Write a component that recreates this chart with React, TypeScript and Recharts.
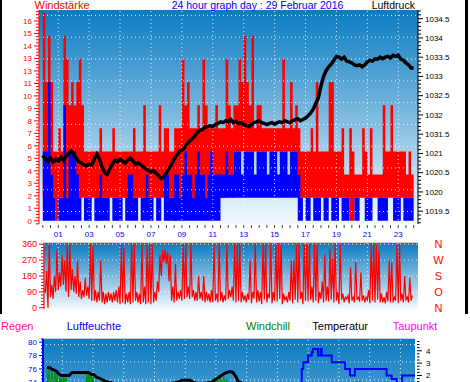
import React from 'react'
import { ComposedChart, Area, Line, XAxis, YAxis, ReferenceLine } from 'recharts'

const FONT = '"Liberation Sans", Arial, Helvetica, sans-serif'
const BG = 'linear-gradient(to bottom, #0a7bc1 0%, #f4f9fd 100%)'

// wind in knots, one slot per 10 minutes from 00:00; the axis is km/h
const KMH_PER_KNOT = 1.852
const GUST_HI = [
  9, 6, 8, 6, 3, 3, 4, 3, 8, 7, 5, 6, 5, 6, 7, 5,
  3, 3, 3, 3, 3, 3, 4, 3, 3, 3, 3, 4, 3, 3, 3, 3,
  3, 3, 3, 4, 3, 3, 3, 5, 3, 3, 3, 3, 3, 5, 3, 4,
  4, 3, 3, 4, 4, 4, 7, 5, 6, 4, 4, 4, 5, 4, 7, 5,
  4, 4, 4, 5, 4, 4, 4, 7, 5, 4, 5, 5, 7, 6, 8, 6,
  5, 8, 4, 5, 5, 4, 4, 4, 4, 4, 4, 4, 4, 7, 4, 4,
  6, 4, 5, 4, 3, 3, 3, 3, 4, 3, 6, 3, 3, 3, 3, 6,
  6, 3, 3, 3, 4, 2, 2, 4, 3, 2, 2, 2, 4, 3, 2, 4,
  2, 2, 2, 2, 5, 3, 3, 5, 3, 3, 3, 3, 3, 2, 3, 2,
]
const GUST_LO = [
  1, 1, 1, 1, 1, 0, 1, 1, 1, 1, 1, 1, 1, 1, 1, 1,
  1, 1, 1, 1, 1, 0, 1, 1, 1, 1, 1, 1, 1, 1, 1, 1,
  1, 1, 1, 1, 1, 1, 1, 1, 1, 1, 1, 1, 1, 1, 1, 1,
  1, 1, 1, 0, 1, 1, 1, 1, 2, 1, 1, 1, 1, 2, 1, 1,
  1, 1, 2, 1, 1, 1, 1, 1, 2, 1, 3, 3, 3, 3, 3, 3,
  3, 3, 3, 3, 3, 3, 3, 3, 3, 3, 3, 3, 3, 3, 3, 3,
  3, 3, 3, 1, 1, 1, 1, 1, 1, 1, 1, 1, 1, 1, 1, 1,
  1, 1, 1, 1, 1, 1, 1, 0, 0, 1, 1, 1, 1, 1, 1, 1,
  1, 1, 1, 1, 1, 1, 1, 1, 1, 1, 1, 1, 1, 1, 1, 1,
]
const MEAN_HI = [
  3, 3, 6, 2, 1, 0, 1, 1, 5, 1, 3, 3, 3, 2, 1, 0,
  1, 1, 1, 0, 1, 1, 2, 1, 1, 1, 0, 1, 1, 1, 1, 0,
  1, 2, 2, 1, 1, 0, 1, 1, 2, 1, 1, 0, 1, 1, 0, 2,
  2, 1, 1, 2, 2, 1, 2, 3, 2, 2, 1, 2, 3, 2, 2, 1,
  2, 3, 2, 2, 2, 2, 2, 3, 2, 2, 3, 3, 3, 2, 3, 3,
  3, 3, 2, 3, 3, 3, 3, 2, 3, 3, 3, 2, 3, 3, 3, 2,
  3, 3, 3, 2, 1, 0, 1, 1, 0, 1, 1, 1, 0, 1, 1, 0,
  1, 1, 1, 0, 1, 1, 1, 0, 0, 1, 1, 0, 0, 1, 1, 1,
  0, 0, 1, 1, 1, 1, 0, 0, 1, 1, 1, 0, 1, 1, 1, 1,
]
const MEAN_LO = [
  0, 0, 0, 0, 0, 0, 0, 0, 0, 0, 0, 0, 0, 0, 0, 0,
  0, 0, 0, 0, 0, 0, 0, 0, 0, 0, 0, 0, 0, 0, 0, 0,
  0, 0, 0, 0, 0, 0, 0, 0, 0, 0, 0, 0, 0, 0, 0, 0,
  0, 0, 0, 0, 0, 0, 0, 0, 0, 0, 0, 0, 0, 0, 0, 0,
  0, 0, 0, 0, 0, 1, 1, 1, 1, 1, 1, 1, 1, 1, 1, 1,
  1, 1, 1, 1, 1, 1, 1, 1, 1, 1, 1, 1, 1, 1, 1, 1,
  1, 1, 1, 0, 0, 0, 0, 0, 0, 0, 0, 0, 0, 0, 0, 0,
  0, 0, 0, 0, 0, 0, 0, 0, 0, 0, 0, 0, 0, 0, 0, 0,
  0, 0, 0, 0, 0, 0, 0, 0, 0, 0, 0, 0, 0, 0, 0, 0,
]
// Luftdruck (hPa), same 10-minute slots
const PRESSURE = [
  1030.95, 1030.85, 1030.8, 1030.88, 1030.78, 1030.85, 1030.8, 1030.9, 1030.82, 1030.92, 1031.0, 1031.06, 1030.98, 1030.88, 1030.78, 1030.75,
  1030.7, 1030.68, 1030.72, 1030.7, 1030.85, 1030.98, 1030.85, 1030.65, 1030.5, 1030.45, 1030.6, 1030.72, 1030.82, 1030.78, 1030.85, 1030.8,
  1030.75, 1030.83, 1030.88, 1030.8, 1030.72, 1030.76, 1030.7, 1030.65, 1030.6, 1030.55, 1030.52, 1030.55, 1030.48, 1030.42, 1030.35, 1030.4,
  1030.5, 1030.6, 1030.72, 1030.85, 1030.95, 1031.05, 1031.08, 1031.15, 1031.25, 1031.32, 1031.38, 1031.45, 1031.55, 1031.6, 1031.62, 1031.68,
  1031.7, 1031.72, 1031.7, 1031.75, 1031.78, 1031.82, 1031.8, 1031.85, 1031.82, 1031.88, 1031.8, 1031.83, 1031.78, 1031.8, 1031.75, 1031.72,
  1031.7, 1031.75, 1031.8, 1031.82, 1031.85, 1031.8, 1031.78, 1031.75, 1031.78, 1031.8, 1031.76, 1031.8, 1031.82, 1031.8, 1031.85, 1031.82,
  1031.8, 1031.85, 1031.88, 1031.9, 1031.85, 1031.88, 1031.92, 1031.98, 1032.05, 1032.15, 1032.3, 1032.45, 1032.75, 1033.0, 1033.15, 1033.25,
  1033.32, 1033.42, 1033.52, 1033.5, 1033.45, 1033.5, 1033.4, 1033.38, 1033.35, 1033.3, 1033.28, 1033.3, 1033.25, 1033.3, 1033.38, 1033.42,
  1033.4, 1033.46, 1033.45, 1033.5, 1033.46, 1033.5, 1033.52, 1033.48, 1033.55, 1033.52, 1033.55, 1033.45, 1033.42, 1033.35, 1033.3, 1033.22,
]

// wind direction (degrees): lowest and highest reading in each 10-minute slot
const DIR_LO = [
  80, 90, 0, 60, 50, 90, 100, 120, 130, 90, 60, 100, 90, 80, 60, 50,
  60, 70, 50, 40, 40, 30, 40, 30, 20, 30, 40, 30, 40, 30, 20, 30,
  20, 30, 20, 30, 40, 30, 20, 30, 20, 30, 20, 30, 40, 90, 180, 260,
  250, 150, 40, 30, 40, 50, 40, 50, 60, 50, 60, 40, 40, 50, 40, 30,
  40, 30, 30, 40, 30, 40, 30, 40, 50, 60, 40, 30, 40, 30, 40, 30,
  45, 25, 50, 30, 35, 20, 45, 30, 55, 25, 40, 35, 50, 20, 45, 30,
  40, 25, 45, 30, 50, 20, 40, 35, 45, 30, 40, 25, 50, 30, 40, 35,
  45, 30, 40, 20, 45, 30, 50, 25, 40, 30, 45, 35, 40, 30, 45, 25,
  40, 30, 45, 30, 30, 25, 35, 30, 30, 40, 25, 40, 30, 45, 30, 40,
]
const DIR_HI = [
  100, 210, 360, 130, 180, 330, 200, 300, 270, 360, 360, 220, 180, 270, 150, 100,
  170, 120, 360, 350, 100, 90, 270, 90, 80, 90, 80, 90, 100, 120, 360, 340,
  80, 90, 360, 360, 90, 80, 360, 120, 360, 360, 360, 90, 150, 300, 330, 330,
  320, 300, 120, 250, 90, 100, 360, 360, 120, 360, 100, 90, 180, 90, 180, 90,
  80, 100, 360, 80, 360, 90, 70, 360, 100, 120, 360, 360, 360, 90, 70, 80,
  270, 90, 360, 100, 90, 360, 360, 80, 360, 90, 360, 360, 360, 80, 60, 90,
  270, 270, 360, 360, 90, 360, 360, 360, 120, 360, 360, 90, 150, 300, 120, 330,
  280, 360, 90, 360, 80, 60, 70, 230, 60, 260, 60, 200, 70, 60, 100, 360,
  360, 360, 330, 80, 60, 90, 270, 260, 60, 360, 360, 80, 180, 60, 170, 70,
]

// bottom chart, [hour, value]
const TEMPERATURE = [
  [0, 2.65], [0.2, 2.62], [0.3, 2.52], [0.55, 2.4], [0.65, 2.3], [0.75, 2.15], [0.95, 2.0], [1.45, 2.0],
  [1.55, 2.14], [1.65, 2.24], [2.7, 2.24], [2.85, 2.12], [3.05, 2.06], [3.25, 1.85], [3.4, 1.78], [3.7, 1.6],
  [4, 1.45], [5, 1.2], [6, 1.0], [7, 1.1], [8, 1.3], [8.6, 1.5], [8.8, 1.62], [9.3, 1.62], [9.5, 1.45],
  [10, 1.3], [10.7, 1.45], [11, 1.7], [11.3, 1.95], [11.6, 2.2], [11.9, 2.32], [12.1, 2.25], [12.3, 1.9],
  [12.45, 1.5], [13, 1.2], [15, 1.0], [17, 0.6], [19, 0.8], [21, 1.0], [23, 1.2], [24, 1.0],
]
const WINDCHILL = [
  [0, 2.5], [0.07, 1.2], [0.14, 2.5], [0.24, 1.0], [0.33, 2.4], [0.43, 1.2], [0.53, 2.2], [0.6, 1.0],
  [0.66, 2.1], [0.75, 1.1], [0.85, 1.9], [0.92, 1.0], [0.98, 1.8], [1.05, 1.2], [1.11, 1.9], [1.18, 1.0],
  [1.24, 1.8], [1.35, 0.8], [2.0, 0.6], [2.55, 0.9], [2.6, 2.1], [2.65, 1.0], [2.7, 2.1], [2.75, 1.1],
  [2.8, 2.0], [2.85, 1.0], [2.9, 2.0], [2.95, 1.2], [3.0, 1.9], [3.1, 0.8], [5, 0.2], [8, 0.3],
  [10.8, 0.8], [10.9, 1.8], [11.0, 0.9], [11.1, 1.9], [11.2, 1.0], [11.3, 1.8], [11.4, 1.1], [11.5, 1.9],
  [11.6, 1.0], [11.7, 1.7], [11.8, 0.8], [13, 0.0], [17, -0.5], [24, -0.5],
]
const HUMIDITY = [
  [0, 70], [3, 71], [8, 66], [12, 62], [16.58, 76], [16.68, 77], [16.99, 78], [17.23, 78.5],
  [17.31, 79], [17.64, 78], [17.81, 79], [17.88, 78], [18.53, 77], [19.4, 76], [19.72, 75],
  [20.04, 76], [22.1, 75], [22.43, 74.5], [22.76, 72], [23.1, 75], [24, 75],
]

const ODD_HOURS = [1, 3, 5, 7, 9, 11, 13, 15, 17, 19, 21, 23]
const HOUR_LABELS = ['01', '03', '05', '07', '09', '11', '13', '15', '17', '19', '21', '23']
const WIND_LABELS = ['0', '1', '2', '3', '4', '5', '6', '7', '8', '9', '10', '11', '13', '13', '14', '15', '16']
const PRESSURE_LABEL_VALUES = [1029.5, 1030, 1030.5, 1031, 1031.5, 1032, 1032.5, 1033, 1033.5, 1034, 1034.5]
const PRESSURE_LABELS = ['1019.5', '1020', '1020.5', '1021', '1031.5', '1032', '1032.5', '1033', '1033.5', '1034', '1034.5']
const COMPASS_VALUES = [0, 90, 180, 270, 360]
const COMPASS_LABELS = ['N', 'O', 'S', 'W', 'N']

const steps = (from: number, to: number, step: number) => {
  const out: number[] = []
  for (let v = from; v <= to + 1e-9; v += step) out.push(Math.round(v * 100) / 100)
  return out
}

const HALF_HOURS = steps(0, 24, 0.5)
const WIND_TICKS = steps(-0.25, 16.75, 0.25)
const PRESSURE_TICKS = steps(1029.2, 1034.7, 0.1)
const DIR_TICKS = steps(0, 360, 18)
const HUM_TICKS = steps(73.5, 80.5, 0.5)
const TEMP_TICKS = steps(1.25, 4.75, 0.25)
const WIND_GRID = [16.45, 14.7, 12.96, 11.2, 9.47, 7.72, 5.97, 4.23, 2.48, 0.74]
const TEMP_GRID = [4.49, 3.09, 1.65]

const windRows = GUST_HI.map((g, i) => ({
  t: i / 6,
  gust: [GUST_LO[i] * KMH_PER_KNOT, g * KMH_PER_KNOT],
  mean: [MEAN_LO[i] * KMH_PER_KNOT, MEAN_HI[i] * KMH_PER_KNOT],
  pressure: PRESSURE[i],
}))
windRows.push({ ...windRows[windRows.length - 1], t: 24 })

const dirRows = DIR_LO.flatMap((lo, i) => [
  { t: i / 6, dir: lo },
  { t: i / 6 + 1 / 12, dir: DIR_HI[i] },
])

const toRows = (pairs: number[][]) => pairs.map(([t, v]) => ({ t, v }))

const dotted = { stroke: '#ffffff', strokeOpacity: 0.85, strokeDasharray: '1 3' }

function WindTick({ x, y, payload }: any) {
  const v = payload.value
  const major = Number.isInteger(v) && v >= 0
  return (
    <g>
      <line x1={x - (major ? 5 : 3)} x2={x} y1={y} y2={y} stroke="#ff0000" />
      {major && (
        <text x={x - 7} y={y + 2.8} textAnchor="end" fontSize={8} fontFamily={FONT} fill="#ff0000">
          {WIND_LABELS[v]}
        </text>
      )}
    </g>
  )
}

function PressureTick({ x, y, payload }: any) {
  const v = payload.value
  const idx = PRESSURE_LABEL_VALUES.findIndex((p) => Math.abs(p - v) < 0.01)
  return (
    <g>
      <line x1={x} x2={x + (idx >= 0 ? 5 : 3)} y1={y} y2={y} stroke="#000" />
      {idx >= 0 && (
        <text x={x + 7} y={y + 2.8} fontSize={8} fontFamily={FONT} fill="#000">
          {PRESSURE_LABELS[idx]}
        </text>
      )}
    </g>
  )
}

function TimeTick({ x, y }: any) {
  return <line x1={x} x2={x} y1={y + 1} y2={y + 4} stroke="#404040" />
}

function HourTick({ x, y, payload }: any) {
  return (
    <text x={x} y={y - 5.7} textAnchor="middle" fontSize={8} fontFamily={FONT} fill="#0000ff">
      {HOUR_LABELS[ODD_HOURS.indexOf(payload.value)]}
    </text>
  )
}

function DirTick({ x, y, payload }: any) {
  const v = payload.value
  const major = v % 90 === 0
  return (
    <g>
      <line x1={x - (major ? 5 : 3)} x2={x} y1={y} y2={y} stroke="#ff0000" />
      {major && (
        <text x={x - 7} y={y + 3} textAnchor="end" fontSize={9} fontFamily={FONT} fill="#ff0000">
          {v}
        </text>
      )}
    </g>
  )
}

function CompassTick({ x, y, payload }: any) {
  return (
    <text x={x + 20.5} y={y + 4} textAnchor="middle" fontSize={11} fontFamily={FONT} fill="#ff0000">
      {COMPASS_LABELS[COMPASS_VALUES.indexOf(payload.value)]}
    </text>
  )
}

function HumTick({ x, y, payload }: any) {
  const v = payload.value
  const major = v % 2 === 0
  return (
    <g>
      <line x1={x - (major ? 4 : 2)} x2={x} y1={y} y2={y} stroke="#0000ff" />
      {major && (
        <text x={x - 6} y={y + 2.8} textAnchor="end" fontSize={8} fontFamily={FONT} fill="#0000ff">
          {v}
        </text>
      )}
    </g>
  )
}

function TempTick({ x, y, payload }: any) {
  const v = payload.value
  const major = Number.isInteger(v)
  return (
    <g>
      <line x1={x + 2} x2={x + (major ? 7 : 4.5)} y1={y} y2={y} stroke="#000" />
      {major && (
        <text x={x + 11} y={y + 2.8} fontSize={8} fontFamily={FONT} fill="#000">
          {v}
        </text>
      )}
    </g>
  )
}

function TopChart() {
  return (
    <ComposedChart width={470} height={232} data={windRows} margin={{ top: 10, right: 2, bottom: 2, left: 0 }}>
      <XAxis
        dataKey="t" type="number" domain={[-0.246, 24.28]} allowDataOverflow
        ticks={HALF_HOURS} interval={0} tick={TimeTick} tickLine={false} axisLine={false}
        tickSize={0} tickMargin={0} height={6}
      />
      <YAxis
        yAxisId="wind" width={39} type="number" domain={[-0.26, 16.88]} allowDataOverflow
        ticks={WIND_TICKS} interval={0} tick={WindTick} tickLine={false} tickSize={0} tickMargin={0}
        axisLine={{ stroke: '#ff0000' }}
      />
      <YAxis
        yAxisId="p" orientation="right" width={50} type="number" domain={[1029.167, 1034.726]} allowDataOverflow
        ticks={PRESSURE_TICKS} interval={0} tick={PressureTick} tickLine={false} tickSize={0} tickMargin={0}
        axisLine={{ stroke: '#000' }}
      />
      {WIND_GRID.map((v) => (
        <ReferenceLine key={'h' + v} yAxisId="wind" y={v} {...dotted} />
      ))}
      {ODD_HOURS.map((h) => (
        <ReferenceLine key={'v' + h} yAxisId="wind" x={h} {...dotted} />
      ))}
      <Area
        yAxisId="wind" dataKey="gust" type="stepAfter" fill="#ff0000" fillOpacity={1} stroke="none"
        dot={false} activeDot={false} isAnimationActive={false}
      />
      <Area
        yAxisId="wind" dataKey="mean" type="stepAfter" fill="#0000ff" fillOpacity={1} stroke="none"
        dot={false} activeDot={false} isAnimationActive={false}
      />
      <Line
        yAxisId="p" dataKey="pressure" type="linear" stroke="#000" strokeWidth={3.5}
        dot={false} activeDot={false} isAnimationActive={false}
      />
    </ComposedChart>
  )
}

function DirectionChart() {
  return (
    <ComposedChart width={470} height={88} data={dirRows} margin={{ top: 0, right: 0, bottom: 7, left: 0 }}>
      <XAxis
        dataKey="t" type="number" orientation="top" domain={[0.078, 24.28]} allowDataOverflow
        ticks={ODD_HOURS} interval={0} tick={HourTick} tickLine={false} axisLine={false}
        tickSize={0} tickMargin={0} height={15}
      />
      <YAxis
        yAxisId="d" width={44} type="number" domain={[-7.4, 367.4]} allowDataOverflow
        ticks={DIR_TICKS} interval={0} tick={DirTick} tickLine={false} tickSize={0} tickMargin={0}
        axisLine={{ stroke: '#ff0000' }}
      />
      <YAxis
        yAxisId="c" orientation="right" width={52} type="number" domain={[-7.4, 367.4]} allowDataOverflow
        ticks={COMPASS_VALUES} interval={0} tick={CompassTick} tickLine={false} tickSize={0} tickMargin={0}
        axisLine={false}
      />
      {[90, 180, 270, 360].map((v) => (
        <ReferenceLine key={'h' + v} yAxisId="d" y={v} {...dotted} />
      ))}
      {ODD_HOURS.map((h) => (
        <ReferenceLine key={'v' + h} yAxisId="d" x={h} {...dotted} />
      ))}
      <Line
        yAxisId="d" dataKey="dir" type="linear" stroke="#ff0000" strokeWidth={1.2}
        dot={false} activeDot={false} isAnimationActive={false}
      />
    </ComposedChart>
  )
}

function ClimateChart() {
  return (
    <ComposedChart width={470} height={260} margin={{ top: 27, right: 0, bottom: 19, left: 0 }}>
      <XAxis dataKey="t" type="number" domain={[-0.254, 23.95]} allowDataOverflow hide />
      <YAxis yAxisId="rain" width={21} type="number" domain={[0, 10]} tick={false} tickLine={false} axisLine={false} />
      <YAxis
        yAxisId="hum" width={22} type="number" domain={[48.44, 80.48]} allowDataOverflow
        ticks={HUM_TICKS} interval={0} tick={HumTick} tickLine={false} tickSize={0} tickMargin={0}
        axisLine={{ stroke: '#0000ff', strokeWidth: 2 }}
      />
      <YAxis
        yAxisId="temp" orientation="right" width={55} type="number" domain={[-12.36, 4.95]} allowDataOverflow
        ticks={TEMP_TICKS} interval={0} tick={TempTick} tickLine={false} tickSize={0} tickMargin={0}
        axisLine={false}
      />
      {TEMP_GRID.map((v) => (
        <ReferenceLine key={'h' + v} yAxisId="temp" y={v} {...dotted} />
      ))}
      {ODD_HOURS.map((h) => (
        <ReferenceLine key={'v' + h} yAxisId="temp" x={h} {...dotted} />
      ))}
      <Line
        data={toRows(WINDCHILL)} yAxisId="temp" dataKey="v" type="linear" stroke="#009000" strokeWidth={1}
        dot={false} activeDot={false} isAnimationActive={false}
      />
      <Line
        data={toRows(TEMPERATURE)} yAxisId="temp" dataKey="v" type="linear" stroke="#000" strokeWidth={3}
        dot={false} activeDot={false} isAnimationActive={false}
      />
      <Line
        data={toRows(HUMIDITY)} yAxisId="hum" dataKey="v" type="stepAfter" stroke="#0000ff" strokeWidth={2}
        dot={false} activeDot={false} isAnimationActive={false}
      />
    </ComposedChart>
  )
}

const abs = (left: number, top: number, width: number, height: number): React.CSSProperties => ({
  position: 'absolute', left, top, width, height,
})

export default function App() {
  return (
    <div style={{ ...abs(0, 0, 470, 382), overflow: 'hidden', background: '#fff', fontFamily: FONT }}>
      <div style={{ ...abs(39, 10, 379, 214), background: BG }} />
      <div style={{ ...abs(44, 243, 374, 66), background: BG, boxShadow: '-1px -1px 0 #d0d0d0' }} />
      <div style={{ ...abs(43, 339, 372, 214), background: BG, boxShadow: '-1px -1px 0 #d0d0d0' }} />
      <div style={abs(0, 0, 470, 232)}>
        <TopChart />
      </div>
      <div style={abs(0, 228, 470, 88)}>
        <DirectionChart />
      </div>
      <div style={abs(0, 312, 470, 260)}>
        <ClimateChart />
      </div>
      <div style={{ ...abs(0, 0, 2, 314), background: '#000' }} />
      <div style={{ ...abs(465, 0, 3, 314), background: '#000' }} />
      <svg style={{ ...abs(0, 0, 470, 382), pointerEvents: 'none' }} fontFamily={FONT}>
        <text x={34.5} y={9.3} fontSize={11} fill="#ff0000">Windstärke</text>
        <text x={171.7} y={9.3} fontSize={10.5} fill="#0000ff">24 hour graph day : 29 Februar 2016</text>
        <text x={371.7} y={9.3} fontSize={10.5} fill="#000">Luftdruck</text>
        <text x={1} y={330} fontSize={11} fill="#ff1480">Regen</text>
        <text x={66.7} y={330} fontSize={11} fill="#0000ff">Luftfeuchte</text>
        <text x={246} y={330} fontSize={11} fill="#008000">Windchill</text>
        <text x={312.3} y={330} fontSize={11} fill="#000">Temperatur</text>
        <text x={392.7} y={330} fontSize={11} fill="#ff00ff">Taupunkt</text>
      </svg>
    </div>
  )
}
